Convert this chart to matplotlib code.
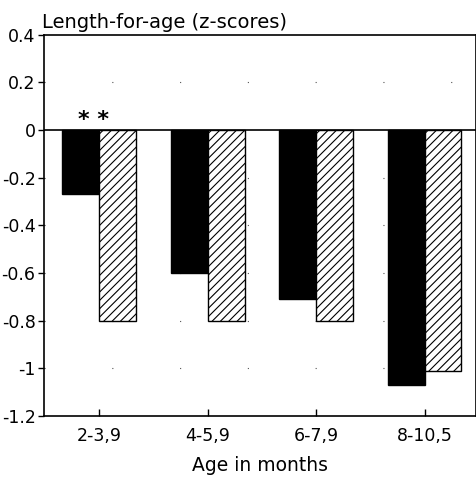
import numpy as np
import matplotlib.pyplot as plt

plt.rcParams['font.family'] = ['DejaVu Sans']
plt.rcParams['hatch.linewidth'] = 0.8

ages = ['2-3,9', '4-5,9', '6-7,9', '8-10,5']
solid = [-0.27, -0.60, -0.71, -1.07]
hatched = [-0.80, -0.80, -0.80, -1.01]

fig = plt.figure(figsize=(4.77, 4.80), dpi=100)
ax = fig.add_axes([0.092, 0.133, 0.905, 0.795])

x = np.arange(len(ages))
w = 0.34
ax.bar(x - w / 2, solid, w, color='black', edgecolor='black', linewidth=1)
ax.bar(x + w / 2, hatched, w, color='white', edgecolor='black', hatch='////', linewidth=1)

ax.axhline(0, color='black', linewidth=1.2)
for yv in [0.2, -0.2, -0.4, -0.6, -0.8, -1.0]:
    ax.axhline(yv, color='#555555', linewidth=0.8, linestyle=(0, (1, 60)), zorder=0)

ax.text(x[0] - 0.055, 0.04, '* *', fontsize=16, fontweight='bold', ha='center', va='center')

ax.set_xlim(-0.51, 3.47)
ax.set_ylim(-1.2, 0.4)
ax.set_yticks([0.4, 0.2, 0, -0.2, -0.4, -0.6, -0.8, -1, -1.2])
ax.set_yticklabels(['0.4', '0.2', '0', '-0.2', '-0.4', '-0.6', '-0.8', '-1', '-1.2'])
ax.set_xticks(x)
ax.set_xticklabels(ages)
ax.tick_params(axis='y', direction='out', length=4, width=1, labelsize=12.5, pad=2)
ax.tick_params(axis='x', direction='in', length=5, width=1, labelsize=12.5, pad=8)
for s in ax.spines.values():
    s.set_linewidth(1.2)

ax.set_xlabel('Age in months', fontsize=13.5, labelpad=8)
fig.text(0.088, 0.934, 'Length-for-age (z-scores)', fontsize=14, ha='left', va='bottom')

plt.savefig('out.png', dpi=100)
plt.close()
